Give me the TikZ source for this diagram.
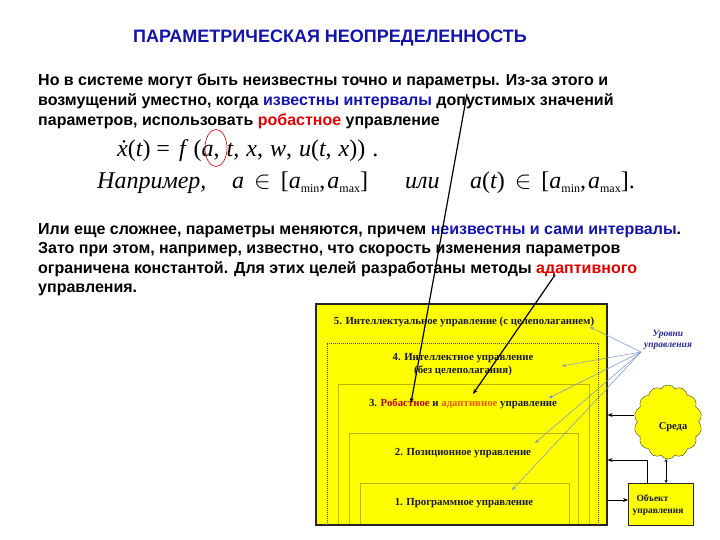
\documentclass[tikz,border=0pt]{standalone}
\usepackage{fontspec}
\setmainfont{Liberation Sans}
\newfontfamily\tms{Liberation Serif}
\usetikzlibrary{shapes.symbols,shapes.geometric,arrows.meta}
\definecolor{ttl}{RGB}{20,20,170}
\definecolor{kblue}{RGB}{20,20,170}
\definecolor{kred}{RGB}{220,0,0}
\definecolor{korange}{RGB}{235,90,0}
\definecolor{ylw}{RGB}{255,255,0}
\definecolor{olivel}{RGB}{190,180,0}
\definecolor{lvl}{RGB}{120,145,210}
\definecolor{boxtxt}{RGB}{25,25,45}
\definecolor{lvtxt}{RGB}{40,40,150}
\newcommand\up[1]{{\upshape #1}}
\newcommand\sbm[1]{\raisebox{-4pt}{\upshape\fontsize{12}{12}\selectfont #1}}
\newcommand\cs{\up{,}\hspace{7pt}}
\begin{document}
\begin{tikzpicture}[x=1pt,y=-1pt,
 body/.style={anchor=base west, inner sep=0pt, font=\fontsize{16}{18}\selectfont\bfseries},
 frm/.style={anchor=base west, inner sep=0pt, font=\fontsize{24}{26}\selectfont\tms\itshape},
 lvltxt/.style={inner sep=0pt, font=\fontsize{10.8}{12.5}\selectfont\tms\bfseries, text=boxtxt, align=center},
 lvlarr/.style={draw=lvl, line width=0.5pt, -{Stealth[length=4pt,width=3pt]}},
 blk/.style={draw=black, line width=1pt, -{Stealth[length=5pt,width=4pt]}},
 inbox/.style={draw=olivel, line width=0.6pt},
]
\useasboundingbox (0,0) rectangle (720,540);
\fill[white] (0,0) rectangle (720,540);

\node[anchor=base, inner sep=0pt, font=\fontsize{18}{20}\selectfont\bfseries, text=ttl] (title) at (330,43) {ПАРАМЕТРИЧЕСКАЯ НЕОПРЕДЕЛЕННОСТЬ};

\node[body] (p1a) at (38,86) {Но в системе могут быть неизвестны точно и параметры. Из-за этого и};
\node[body] (p1b) at (38,106) {возмущений уместно, когда \textcolor{kblue}{известны интервалы} допустимых значений};
\node[body] (p1c) at (38,126) {параметров, использовать \textcolor{kred}{робастное} управление};

\node[frm] (f1) at (117,157) {\.{x}\up{(}t\up{)} \up{=}\hspace{9pt}f\hspace{8pt}\up{(}a\cs t\cs x\cs w\cs u\up{(}t\cs x\up{))}\hspace{7pt}\up{.}};
\node[draw=red!85!black, line width=0.6pt, ellipse, minimum width=22pt, minimum height=37pt, inner sep=0pt] (ell) at (216,148) {};

\node[frm] (ex) at (97,189) {Например,};
\node[frm] (ex2) at (232,189) {a\hspace{10pt}$\in$\hspace{10pt}\up{[}a\sbm{min}\up{,}\hspace{2pt}a\sbm{max}\up{]}};
\node[frm] (ili) at (405,189) {или};
\node[frm] (ex3) at (470,189) {a\up{(}t\up{)}\hspace{10pt}$\in$\hspace{10pt}\up{[}a\sbm{min}\up{,}\hspace{2pt}a\sbm{max}\up{]}\up{.}};

\node[body] (p2a) at (38,234) {Или еще сложнее, параметры меняются, причем \textcolor{kblue}{неизвестны и сами интервалы}.};
\node[body] (p2b) at (38,254) {Зато при этом, например, известно, что скорость изменения параметров};
\node[body] (p2c) at (38,273) {ограничена константой. Для этих целей разработаны методы \textcolor{kred}{адаптивного}};
\node[body] (p2d) at (38,292) {управления.};

% yellow levels
\node[draw=black!85, line width=1.2pt, fill=ylw, minimum width=291pt, minimum height=221pt, inner sep=0pt] (outer) at (461.5,414.5) {};
\draw[densely dotted, line width=1pt, draw=black!70] (327,525) -- (327,343) -- (598,343) -- (598,525);
\draw[inbox] (338,524) |- (589,384) -- (589,524);
\draw[inbox] (349,524) |- (578,433) -- (578,524);
\draw[inbox] (360,524) |- (569,483) -- (569,524);

\node[lvltxt] (l5) at (464,322) {5. Интеллектуальное управление (с целеполаганием)};
\node[lvltxt] (l4) at (463,364.5) {4. Интеллектное управление\\(без целеполагания)};
\node[lvltxt] (l3) at (463,404) {3. \textcolor{kred!85!black}{Робастное} и \textcolor{korange}{адаптивное} управление};
\node[lvltxt] (l2) at (463,453) {2. Позиционное управление};
\node[lvltxt] (l1) at (464,503) {1. Программное управление};

\node[inner sep=0pt, font=\fontsize{9.5}{11.5}\selectfont\tms\bfseries\itshape, text=lvtxt, align=center] (urov) at (668,340) {Уровни\\управления};
\coordinate (lv) at (641,352);
\coordinate (t5) at (590,327);
\coordinate (t4) at (562,366);
\coordinate (t3) at (549,398);
\coordinate (t2) at (535,443);
\coordinate (t1) at (512,490);
\foreach \t in {t5,t4,t3,t2,t1} \draw[lvlarr] (lv) -- (\t);

% environment and object
\node[cloud, cloud puffs=14, cloud puff arc=110, aspect=0.95, draw=black!80, fill=ylw, minimum width=68pt, minimum height=74pt, inner sep=0pt] (sreda) at (668,422) {};
\node[inner sep=0pt, font=\fontsize{10.5}{12}\selectfont\tms\bfseries, text=boxtxt] (sredat) at (673,427) {Среда};
\node[draw=black!85, line width=1pt, fill=ylw, minimum width=65pt, minimum height=42pt, inner sep=0pt] (obj) at (660.5,504) {};
\node[inner sep=0pt, font=\fontsize{9.5}{12}\selectfont\tms\bfseries, text=boxtxt, align=left] (objt) at (658,505) {\hspace*{4pt}Объект\\управления};

\coordinate (e1) at (634,415);
\draw[blk] (e1) -- (outer.east |- e1);
\coordinate (o2) at (647,483);
\coordinate (o2b) at (647,460);
\draw[blk] (o2) -- (o2b) -- (outer.east |- o2b);
\coordinate (o3) at (628,500);
\draw[blk] (outer.east |- o3) -- (o3);
\coordinate (sb) at (666,459);
\coordinate (ot) at (666,483);
\draw[line width=0.6pt, {Stealth[length=3pt,width=3pt]}-{Stealth[length=3pt,width=3pt]}] (sb) -- (ot);

% black pointer arrows
\coordinate (a1s) at (467,94);
\coordinate (a1e) at (411,403);
\draw[blk, line width=1.2pt] (a1s) -- (a1e);
\coordinate (a2s) at (555,275);
\coordinate (a2e) at (473,394);
\draw[blk, line width=1.2pt] (a2s) -- (a2e);
\end{tikzpicture}
\end{document}
